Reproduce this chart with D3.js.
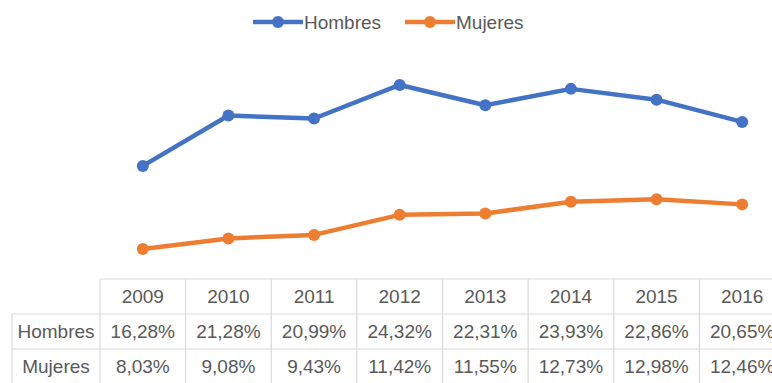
<!DOCTYPE html>
<html>
<head>
<meta charset="utf-8">
<script src="https://cdn.jsdelivr.net/npm/d3@7"></script>
<style>
  html, body { margin: 0; padding: 0; background: #fff; }
  svg { display: block; font-family: "Liberation Sans", Arial, sans-serif; }
</style>
</head>
<body>
<svg id="chart" width="772" height="383"></svg>
<script>
const years = ["2009", "2010", "2011", "2012", "2013", "2014", "2015", "2016"];
const hombres = [16.28, 21.28, 20.99, 24.32, 22.31, 23.93, 22.86, 20.65];
const mujeres = [8.03, 9.08, 9.43, 11.42, 11.55, 12.73, 12.98, 12.46];
const seriesNames = ["Hombres", "Mujeres"];
const seriesColors = ["#4472C4", "#ED7D31"];

const fmt = v => v.toFixed(2).replace(".", ",") + "%";

const svg = d3.select("#chart");
const W = 772, H = 383;

// column band shared by the plot and the data table
const x = d3.scaleBand().domain(years).range([100, 785]).padding(0);
const cx = d => x(d) + x.bandwidth() / 2;
const y = d3.scaleLinear().domain([5, 30]).range([279.5, 27.75]);

const textColor = "#595959";
const gridColor = "#d9d9d9";
const fontSize = 19;

// series lines and markers
const series = [hombres, mujeres];
const line = d3.line().x((d, i) => cx(years[i])).y(d => y(d));
series.forEach((vals, s) => {
  svg.append("path")
    .attr("d", line(vals))
    .attr("fill", "none")
    .attr("stroke", seriesColors[s])
    .attr("stroke-width", 4.5)
    .attr("stroke-linejoin", "round");
  svg.append("g").selectAll("circle")
    .data(vals)
    .join("circle")
    .attr("cx", (d, i) => cx(years[i]))
    .attr("cy", d => y(d))
    .attr("r", 6)
    .attr("fill", seriesColors[s]);
});

// legend
const legend = [
  { name: seriesNames[0], color: seriesColors[0], x0: 253 },
  { name: seriesNames[1], color: seriesColors[1], x0: 405 }
];
const lg = svg.append("g");
legend.forEach(l => {
  lg.append("line")
    .attr("x1", l.x0).attr("x2", l.x0 + 50)
    .attr("y1", 22).attr("y2", 22)
    .attr("stroke", l.color).attr("stroke-width", 4.5);
  lg.append("circle")
    .attr("cx", l.x0 + 25).attr("cy", 22).attr("r", 6)
    .attr("fill", l.color);
  lg.append("text")
    .attr("x", l.x0 + 51).attr("y", 22)
    .attr("dy", "0.35em")
    .attr("font-size", fontSize)
    .attr("fill", textColor)
    .text(l.name);
});

// data table
const rowTop = [279, 314, 349];
const rowH = 35;
const labelLeft = 12;
const tableRight = x.range()[1];
const tg = svg.append("g");

// horizontal rules
tg.append("line").attr("x1", x.range()[0]).attr("x2", tableRight)
  .attr("y1", rowTop[0]).attr("y2", rowTop[0]);
[rowTop[1], rowTop[2], rowTop[2] + rowH].forEach(yy => {
  tg.append("line").attr("x1", labelLeft).attr("x2", tableRight)
    .attr("y1", yy).attr("y2", yy);
});
// vertical rules
tg.append("line").attr("x1", labelLeft).attr("x2", labelLeft)
  .attr("y1", rowTop[1]).attr("y2", rowTop[2] + rowH);
years.concat(["end"]).forEach((yr, i) => {
  const xx = i < years.length ? x(yr) : tableRight;
  tg.append("line").attr("x1", xx).attr("x2", xx)
    .attr("y1", rowTop[0]).attr("y2", rowTop[2] + rowH);
});
tg.selectAll("line").attr("stroke", gridColor).attr("stroke-width", 1.2);

// header row: years
tg.append("g").selectAll("text")
  .data(years)
  .join("text")
  .attr("x", d => cx(d))
  .attr("y", rowTop[0] + rowH / 2)
  .attr("dy", "0.35em")
  .attr("text-anchor", "middle")
  .attr("font-size", fontSize)
  .attr("fill", textColor)
  .text(d => d);

// value rows
series.forEach((vals, s) => {
  const yy = rowTop[s + 1] + rowH / 2;
  tg.append("text")
    .attr("x", (labelLeft + x.range()[0]) / 2)
    .attr("y", yy)
    .attr("dy", "0.35em")
    .attr("text-anchor", "middle")
    .attr("font-size", fontSize)
    .attr("fill", textColor)
    .text(seriesNames[s]);
  tg.append("g").selectAll("text")
    .data(vals)
    .join("text")
    .attr("x", (d, i) => cx(years[i]))
    .attr("y", yy)
    .attr("dy", "0.35em")
    .attr("text-anchor", "middle")
    .attr("font-size", fontSize)
    .attr("fill", textColor)
    .text(d => fmt(d));
});
</script>
</body>
</html>
